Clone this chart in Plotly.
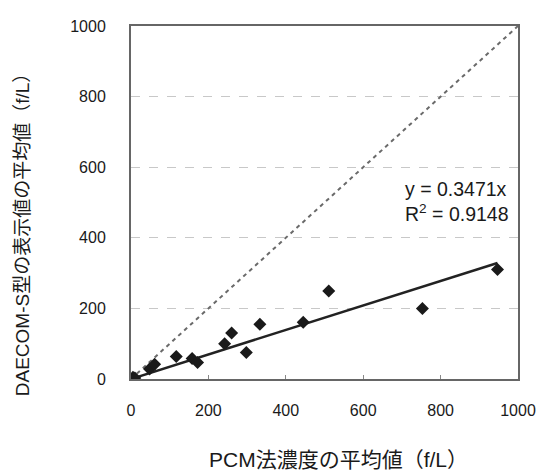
import plotly.graph_objects as go

# Data
pcm_x = [0, 5, 10, 48, 61, 117, 158, 172, 242, 260, 298, 333, 445, 511, 753, 947]
daecom_y = [0, 5, 3, 28, 42, 64, 58, 47, 100, 130, 75, 155, 161, 249, 200, 310]
slope = 0.3471
r2 = 0.9148
x_ticks = [0, 200, 400, 600, 800, 1000]
y_ticks = [0, 200, 400, 600, 800, 1000]
x_title = "PCM法濃度の平均値（f/L）"
y_title = "DAECOM-S型の表示値の平均値（f/L）"

FONT = "Liberation Sans, Arial, Noto Sans CJK JP, sans-serif"

x_fit = [0, max(pcm_x)]
y_fit = [slope * v for v in x_fit]

fig = go.Figure()
fig.add_trace(go.Scatter(x=[0, 1000], y=[0, 1000], mode="lines",
                         line=dict(color="#6a6a6a", width=2, dash="4px,4px"),
                         hoverinfo="skip", showlegend=False))
fig.add_trace(go.Scatter(x=x_fit, y=y_fit, mode="lines",
                         line=dict(color="#222222", width=2.5),
                         showlegend=False))
fig.add_trace(go.Scatter(x=pcm_x, y=daecom_y, mode="markers",
                         marker=dict(symbol="diamond", size=10, color="#1a1a1a"),
                         showlegend=False))

fig.add_annotation(x=982, y=503, xref="x", yref="y",
                   text=f"y = {slope}x<br>R<sup>2</sup> = {r2}",
                   showarrow=False, xanchor="right", yanchor="middle", align="left",
                   font=dict(family=FONT, size=19.5, color="#1a1a1a"))

# axis titles as annotations for precise placement
fig.add_annotation(x=0.536, y=-0.228, xref="paper", yref="paper",
                   text=x_title, showarrow=False, xanchor="center", yanchor="middle",
                   font=dict(family=FONT, size=21, color="#1a1a1a"))
fig.add_annotation(x=-0.282, y=0.424, xref="paper", yref="paper",
                   text=y_title, showarrow=False, textangle=-90,
                   xanchor="center", yanchor="middle",
                   font=dict(family=FONT, size=19, color="#1a1a1a"))

fig.update_layout(
    width=538, height=466,
    margin=dict(l=123, r=22, t=10, b=95),
    paper_bgcolor="white", plot_bgcolor="white",
    font=dict(family=FONT, color="#1a1a1a"),
)
fig.update_xaxes(
    range=[0, 1000], tickvals=x_ticks, showgrid=False, zeroline=False,
    showline=True, linecolor="#666666", linewidth=2, mirror=True,
    ticks="inside", ticklen=4, tickcolor="#888888",
    tickfont=dict(family=FONT, size=16, color="#1a1a1a"),
    ticklabelstandoff=16,
)
fig.update_yaxes(
    range=[0, 1000], tickvals=y_ticks, showgrid=True,
    gridcolor="#c8c8c8", griddash="dash", gridwidth=1, zeroline=False,
    showline=True, linecolor="#666666", linewidth=2, mirror=True,
    ticks="", tickfont=dict(family=FONT, size=16, color="#1a1a1a"),
    ticklabelstandoff=20,
)

fig.write_html("out.html")
